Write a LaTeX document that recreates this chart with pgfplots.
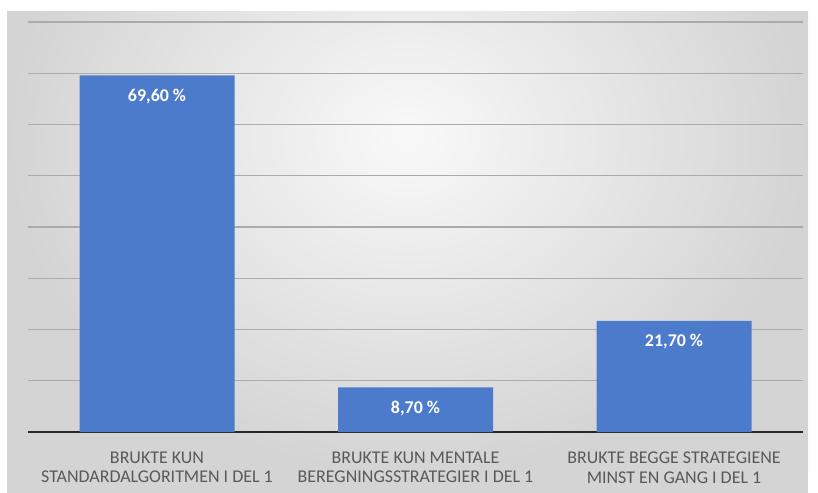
\documentclass[border=0pt]{standalone}
\usepackage{pgfplots}
\pgfplotsset{compat=1.18}
\usepackage{fontspec}
\setmainfont{Carlito}
\definecolor{barblue}{HTML}{4D7BCB}
\definecolor{labgray}{HTML}{595959}
\definecolor{gridgray}{HTML}{ABABAB}
\definecolor{bgin}{HTML}{F9F9F9}
\definecolor{bgout}{HTML}{D4D4D4}
\begin{document}
\begin{tikzpicture}
\fill[white] (0bp,0bp) rectangle (818bp,493bp);
\begin{scope}
\clip (7bp,0bp) rectangle (808bp,481bp);
\fill[bgout] (7bp,0bp) rectangle (808bp,481bp);
\shade[inner color=bgin, outer color=bgout] (7bp,20bp) rectangle (808bp,690bp);
\end{scope}
\begin{axis}[
  at={(27.75bp,61bp)}, anchor=south west,
  scale only axis, width=775.5bp, height=410bp,
  xmin=-0.5, xmax=2.5, ymin=0, ymax=80,
  axis x line=bottom, axis y line=left,
  x axis line style={-, line width=2.2bp, black!85},
  y axis line style={draw=none},
  ytick={10,20,...,80}, yticklabels={},
  ymajorgrids, grid style={gridgray, line width=1.1bp},
  xtick={0,1,2}, major tick length=0,
  xticklabels={BRUKTE KUN\\STANDARDALGORITMEN I DEL 1,
               BRUKTE KUN MENTALE\\BEREGNINGSSTRATEGIER I DEL 1,
               BRUKTE BEGGE STRATEGIENE\\MINST EN GANG I DEL 1},
  xticklabel style={align=center, font=\fontsize{18}{20}\selectfont, text=labgray, yshift=-16bp},
  ybar, bar width=155bp,
  /pgf/number format/assume math mode=true,
  nodes near coords={\pgfmathprintnumber[fixed, fixed zerofill, precision=2, use comma]{\pgfplotspointmeta}~\%},
  every node near coord/.append style={anchor=center, yshift=-21bp, text=white, font=\fontsize{18}{20}\selectfont\bfseries},
  clip=false,
]
\addplot[fill=barblue, draw=none] coordinates {(0,69.6) (1,8.7) (2,21.7)};
\end{axis}
\end{tikzpicture}
\end{document}
